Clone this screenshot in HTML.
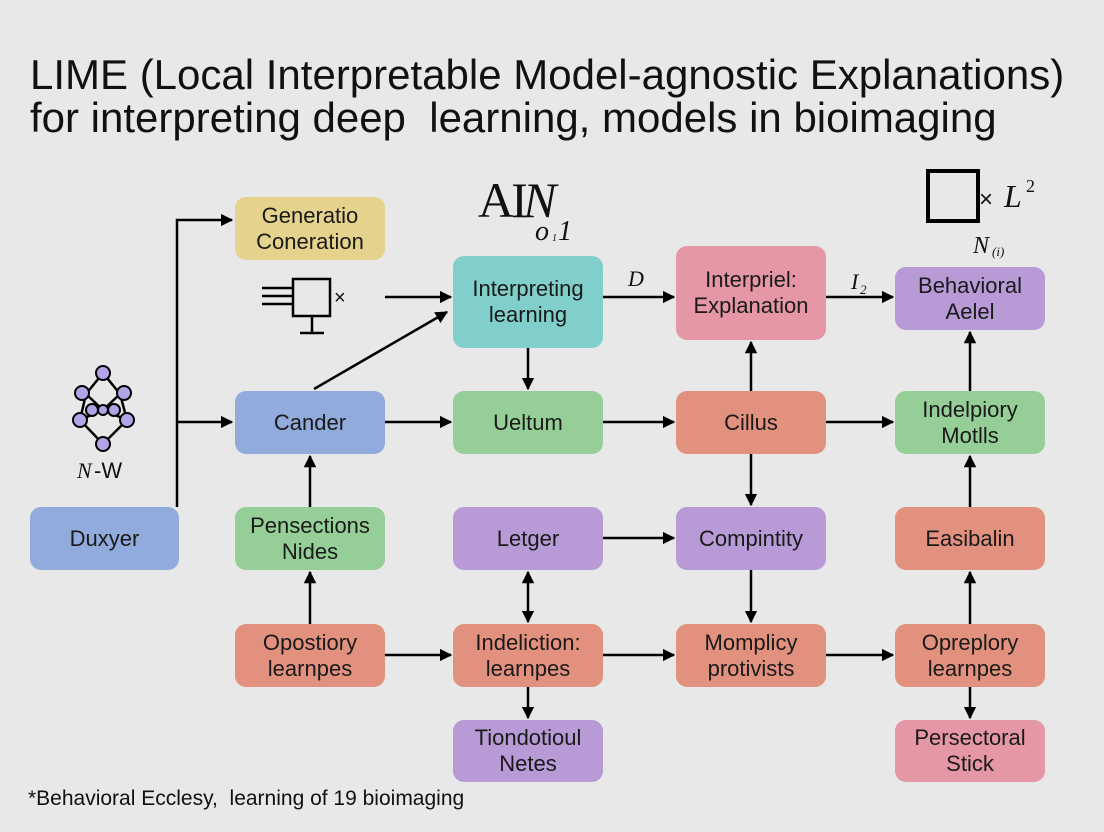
<!DOCTYPE html>
<html><head><meta charset="utf-8"><style>
body{margin:0;width:1104px;height:832px;background:#e8e8e8;font-family:"Liberation Sans",sans-serif;position:relative;overflow:hidden}
.t{position:absolute;left:30px;font-size:42px;color:#111;white-space:nowrap}
.b{position:absolute;border-radius:11px;display:flex;align-items:center;justify-content:center;text-align:center;font-size:22px;line-height:26px;color:#1a1a1a}
.y{background:#e5d28c}.tl{background:#80cfcb}.p{background:#e597a5}.v{background:#b79ad6}.bl{background:#90abdc}.g{background:#95cf97}.s{background:#e3917f}
svg{position:absolute;left:0;top:0}
</style></head><body>
<div class="t" style="top:51px">LIME (Local Interpretable Model-agnostic Explanations)</div>
<div class="t" style="top:94px">for interpreting deep &nbsp;learning, models in bioimaging</div>

<div class="b y" style="left:235px;top:197px;width:150px;height:63px">Generatio<br>Coneration</div>
<div class="b tl" style="left:453px;top:256px;width:150px;height:92px">Interpreting<br>learning</div>
<div class="b p" style="left:676px;top:246px;width:150px;height:94px">Interpriel:<br>Explanation</div>
<div class="b v" style="left:895px;top:267px;width:150px;height:63px">Behavioral<br>Aelel</div>

<div class="b bl" style="left:235px;top:391px;width:150px;height:63px">Cander</div>
<div class="b g" style="left:453px;top:391px;width:150px;height:63px">Ueltum</div>
<div class="b s" style="left:676px;top:391px;width:150px;height:63px">Cillus</div>
<div class="b g" style="left:895px;top:391px;width:150px;height:63px">Indelpiory<br>Motlls</div>

<div class="b bl" style="left:30px;top:507px;width:149px;height:63px">Duxyer</div>
<div class="b g" style="left:235px;top:507px;width:150px;height:63px">Pensections<br>Nides</div>
<div class="b v" style="left:453px;top:507px;width:150px;height:63px">Letger</div>
<div class="b v" style="left:676px;top:507px;width:150px;height:63px">Compintity</div>
<div class="b s" style="left:895px;top:507px;width:150px;height:63px">Easibalin</div>

<div class="b s" style="left:235px;top:624px;width:150px;height:63px">Opostiory<br>learnpes</div>
<div class="b s" style="left:453px;top:624px;width:150px;height:63px">Indeliction:<br>learnpes</div>
<div class="b s" style="left:676px;top:624px;width:150px;height:63px">Momplicy<br>protivists</div>
<div class="b s" style="left:895px;top:624px;width:150px;height:63px">Opreplory<br>learnpes</div>

<div class="b v" style="left:453px;top:720px;width:150px;height:62px">Tiondotioul<br>Netes</div>
<div class="b p" style="left:895px;top:720px;width:150px;height:62px">Persectoral<br>Stick</div>

<div style="position:absolute;left:28px;top:787px;font-size:21px;color:#111">*Behavioral Ecclesy, &nbsp;learning of 19 bioimaging</div>

<svg width="1104" height="832" viewBox="0 0 1104 832">
<defs><marker id="a" viewBox="0 0 10 10" refX="9" refY="5" markerWidth="5" markerHeight="5" orient="auto-start-reverse"><path d="M0,0L10,5L0,10z" fill="#000"/></marker></defs>
<g stroke="#000" stroke-width="2.5" fill="none">
<path d="M177,507V220H232" marker-end="url(#a)"/>
<path d="M177,422H232" marker-end="url(#a)"/>
<path d="M385,297H451" marker-end="url(#a)"/>
<path d="M314,389L447,312" marker-end="url(#a)"/>
<path d="M528,348V389" marker-end="url(#a)"/>
<path d="M385,422H451" marker-end="url(#a)"/>
<path d="M603,422H674" marker-end="url(#a)"/>
<path d="M826,422H893" marker-end="url(#a)"/>
<path d="M603,297H674" marker-end="url(#a)"/>
<path d="M826,297H893" marker-end="url(#a)"/>
<path d="M751,391V342" marker-end="url(#a)"/>
<path d="M751,454V505" marker-end="url(#a)"/>
<path d="M751,570V622" marker-end="url(#a)"/>
<path d="M603,538H674" marker-end="url(#a)"/>
<path d="M528,572V622" marker-start="url(#a)" marker-end="url(#a)"/>
<path d="M310,507V456" marker-end="url(#a)"/>
<path d="M310,624V572" marker-end="url(#a)"/>
<path d="M385,655H451" marker-end="url(#a)"/>
<path d="M603,655H674" marker-end="url(#a)"/>
<path d="M826,655H893" marker-end="url(#a)"/>
<path d="M528,687V718" marker-end="url(#a)"/>
<path d="M970,624V572" marker-end="url(#a)"/>
<path d="M970,507V456" marker-end="url(#a)"/>
<path d="M970,391V332" marker-end="url(#a)"/>
<path d="M970,687V718" marker-end="url(#a)"/>
<rect x="293" y="279" width="37" height="37"/>
<path d="M262,288H293M262,296H293M262,304H293M312,316V333M300,333H324"/>
<rect x="928" y="171" width="50" height="50" stroke-width="4"/>
<path d="M103,373L86,394L80,420L103,444L127,420L120,394Z M86,394L103,410L120,394 M80,420L103,410L127,420"/>
</g>
<g fill="#b3a4e8" stroke="#000" stroke-width="2">
<circle cx="103" cy="373" r="7"/><circle cx="82" cy="393" r="7"/><circle cx="124" cy="393" r="7"/>
<circle cx="80" cy="420" r="7"/><circle cx="127" cy="420" r="7"/><circle cx="92" cy="410" r="6"/><circle cx="114" cy="410" r="6"/><circle cx="103" cy="410" r="5"/>
<circle cx="103" cy="444" r="7"/>
</g>
<g font-family="Liberation Serif,serif" font-style="italic" fill="#111">
<text x="77" y="478" font-size="22">N</text><text x="94" y="478" font-size="22" font-style="normal" font-family="Liberation Sans,sans-serif">-W</text>
<text x="478" y="217" font-size="50" font-style="normal" letter-spacing="-3">AI</text><text x="523" y="217" font-size="50">N</text>
<text x="535" y="240" font-size="28">o</text><text x="552" y="241" font-size="10">1</text><text x="558" y="240" font-size="28">1</text>
<text x="628" y="286" font-size="22">D</text>
<text x="851" y="289" font-size="22">I</text><text x="860" y="294" font-size="13">2</text>
<text x="1004" y="207" font-size="32">L</text><text x="1026" y="192" font-size="18" font-style="normal">2</text>
<text x="973" y="253" font-size="24">N</text><text x="992" y="256" font-size="13">(i)</text>
</g>
<text x="334" y="304" font-size="20" fill="#111" font-family="Liberation Sans">×</text>
<text x="979" y="207" font-size="24" fill="#111" font-family="Liberation Sans">×</text>
</svg>
</body></html>
